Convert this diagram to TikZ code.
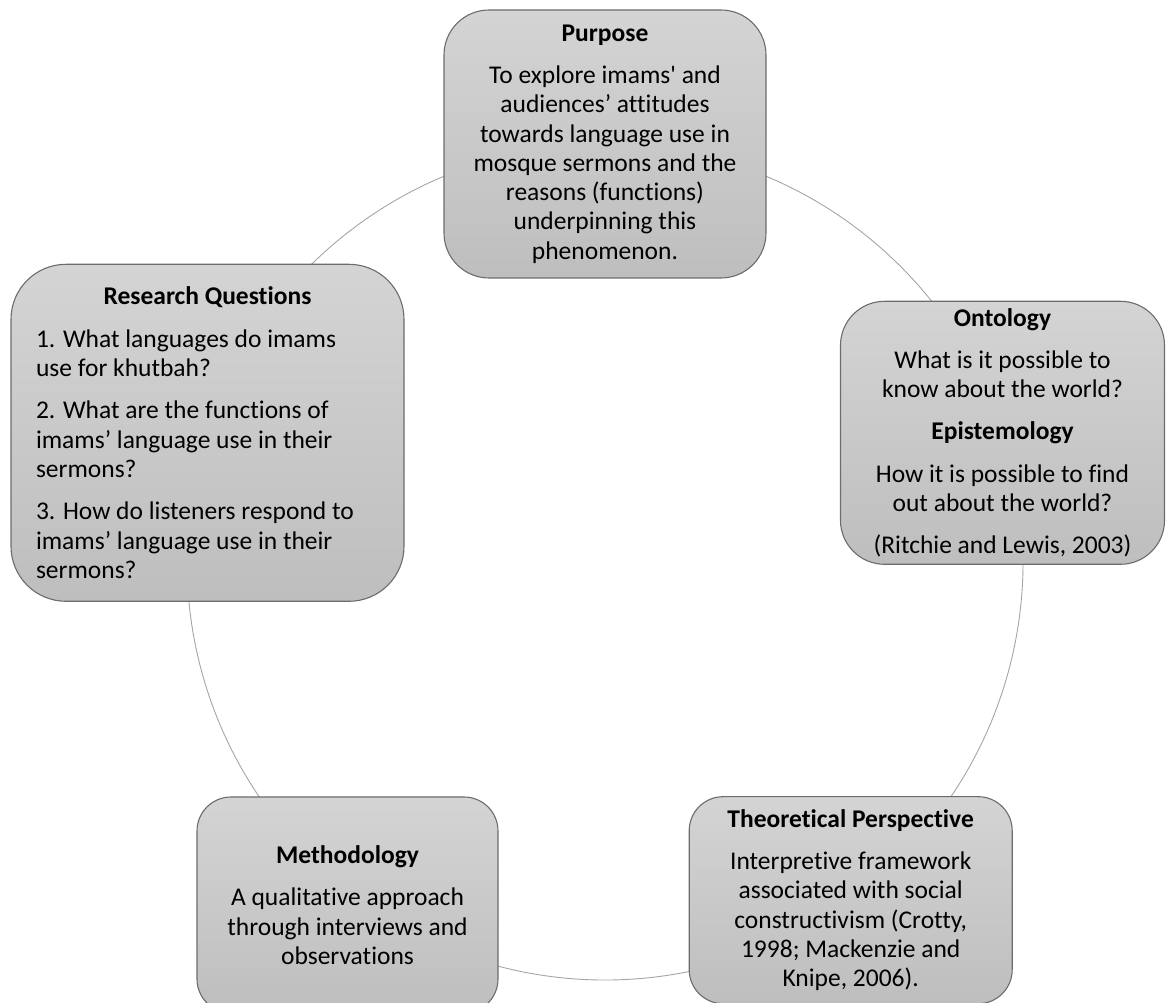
\documentclass[tikz,border=0pt]{standalone}
\usepackage{fontspec}
\setmainfont[Ligatures={TeX,NoCommon}]{Carlito}
\usetikzlibrary{backgrounds}

\definecolor{boxtop}{RGB}{212,212,212}
\definecolor{boxbot}{RGB}{190,190,190}
\definecolor{boxline}{RGB}{108,108,108}
\definecolor{ringline}{RGB}{165,165,165}

\begin{document}
\begin{tikzpicture}[x=1pt, y=1pt,
    box/.style={draw=boxline, line width=1.1pt, top color=boxtop, bottom color=boxbot,
        inner sep=0pt, align=center, font=\fontsize{25.5}{29.3}\selectfont},
    ring/.style={draw=ringline, line width=0.9pt}]
    \useasboundingbox (0,0) rectangle (1168,1002);

    % Boxes round the cycle
    \node[box, minimum width=322pt, minimum height=268pt, rounded corners=45pt] (purpose) at (605,858)
        {\textbf{Purpose}\\[13pt]
         To explore imams\textquotesingle{} and\\
         audiences’ attitudes\\
         towards language use in\\
         mosque sermons and the\\
         reasons (functions)\\
         underpinning this\\
         phenomenon.};

    \node[box, minimum width=324pt, minimum height=263pt, rounded corners=44pt] (ontology) at (1002.5,569.2)
        {\textbf{Ontology}\\[13pt]
         What is it possible to\\
         know about the world?\\[13pt]
         \textbf{Epistemology}\\[13pt]
         How it is possible to find\\
         out about the world?\\[13pt]
         (Ritchie and Lewis, 2003)};

    \node[box, minimum width=323pt, minimum height=207pt, rounded corners=34pt] (theory) at (850.7,101.8)
        {\textbf{Theoretical Perspective}\\[13pt]
         Interpretive framework\\
         associated with social\\
         constructivism (Crotty,\\
         1998; Mackenzie and\\
         Knipe, 2006).};

    \node[box, minimum width=301pt, minimum height=216pt, rounded corners=34pt] (method) at (347.5,97)
        {\textbf{Methodology}\\[13pt]
         A qualitative approach\\
         through interviews and\\
         observations};

    \node[box, minimum width=393pt, minimum height=337pt, rounded corners=55pt,
          text width=343pt, align=flush left] (research) at (207.5,569.2)
        {\makebox[343pt][c]{\textbf{Research Questions}}\\[13pt]
         1. What languages do imams\\
         use for khutbah?\\[13pt]
         2. What are the functions of\\
         imams’ language use in their\\
         sermons?\\[13pt]
         3. How do listeners respond to\\
         imams’ language use in their\\
         sermons?};

    % Circle arcs between the boxes
    \begin{pgfonlayer}{background}
        \draw[ring] (purpose.center) arc[start angle=90, end angle=162, radius=418pt];
        \draw[ring] (research.center) arc[start angle=162, end angle=234, radius=418pt];
        \draw[ring] (theory.center) arc[start angle=-54, end angle=-126, radius=418pt];
        \draw[ring] (theory.center) arc[start angle=-54, end angle=18, radius=418pt];
        \draw[ring] (ontology.center) arc[start angle=18, end angle=90, radius=418pt];
    \end{pgfonlayer}

\end{tikzpicture}
\end{document}
